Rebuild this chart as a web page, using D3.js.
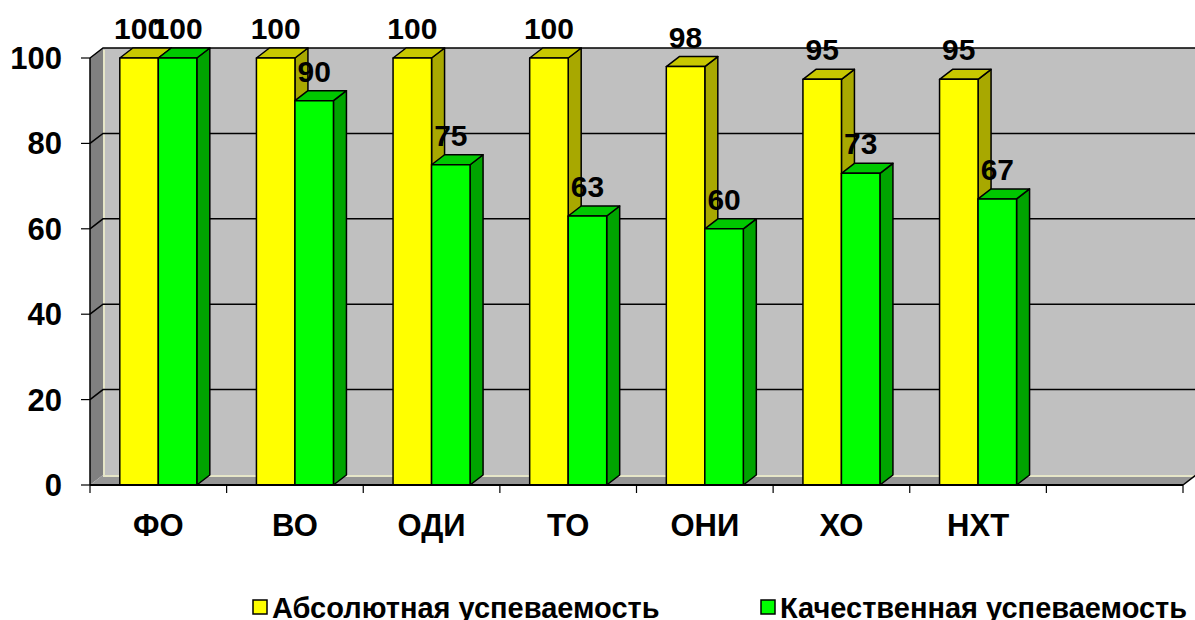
<!DOCTYPE html>
<html>
<head>
<meta charset="utf-8">
<script src="https://cdn.jsdelivr.net/npm/d3@7"></script>
<style>
  body { margin: 0; background: #fff; }
  svg text { font-family: Arial, "Liberation Sans", sans-serif; font-weight: bold; fill: #000; }
</style>
</head>
<body>
<div class="chart"></div>
<script>
var categories = ["ФО", "ВО", "ОДИ", "ТО", "ОНИ", "ХО", "НХТ", ""];
var absolute = [100, 100, 100, 100, 98, 95, 95];
var quality = [100, 90, 75, 63, 60, 73, 67];
var seriesNames = ["Абсолютная успеваемость", "Качественная успеваемость"];
var yTicks = [0, 20, 40, 60, 80, 100];

var width = 1195,
    height = 620;

// depth offset of the 3d box
var dx = 13,
    dy = -10;

var colors = [
  { front: "#ffff00", top: "#c8c800", side: "#a8a800" },
  { front: "#00ff00", top: "#00c800", side: "#00a400" }
];

var svg = d3.select(".chart").append("svg")
    .attr("width", width)
    .attr("height", height);

var x = d3.scaleBand()
    .domain(categories)
    .range([90, 1183]);

var xs = d3.scaleBand()
    .domain([0, 1])
    .range([0, x.bandwidth()])
    .paddingOuter(0.774);

var y = d3.scaleLinear()
    .domain([0, 100])
    .range([485, 58]);

var x0 = x.range()[0], x1 = x.range()[1];

// walls
svg.append("rect")
    .attr("x", x0 + dx)
    .attr("y", y(100) + dy)
    .attr("width", x1 - x0 + 5)
    .attr("height", y(0) - y(100))
    .attr("fill", "#c0c0c0");

svg.append("path")
    .attr("d", "M" + x0 + "," + y(100) + "L" + (x0 + dx) + "," + (y(100) + dy) +
               "L" + (x0 + dx) + "," + (y(0) + dy) + "L" + x0 + "," + y(0) + "Z")
    .attr("fill", "#808080");

svg.append("path")
    .attr("d", "M" + x0 + "," + y(0) + "L" + (x0 + dx) + "," + (y(0) + dy) +
               "L" + (x1 + dx) + "," + (y(0) + dy) + "L" + x1 + "," + y(0) + "Z")
    .attr("fill", "#969696");

// light edge of back wall
svg.append("path")
    .attr("d", "M" + (x0 + dx + 1) + "," + (y(100) + dy + 2) + "L" + (x0 + dx + 1) + "," + (y(0) + dy + 1) +
               "L" + (x1 + dx + 5) + "," + (y(0) + dy + 1))
    .attr("fill", "none")
    .attr("stroke", "#e6e6c8")
    .attr("stroke-width", 2);

// gridlines
var grid = svg.append("g");
yTicks.filter(function(d){ return d > 0; }).forEach(function(t){
  grid.append("path")
      .attr("d", "M" + x0 + "," + y(t) + "L" + (x0 + dx) + "," + (y(t) + dy) + "L" + (x1 + dx + 5) + "," + (y(t) + dy))
      .attr("fill", "none")
      .attr("stroke", "#000")
      .attr("stroke-width", 1.5);
});

// bars
var bars = [];
categories.forEach(function(c, i){
  [absolute, quality].forEach(function(s, k){
    if (s[i] !== undefined) bars.push({ cat: c, k: k, v: s[i] });
  });
});

var g = svg.append("g")
    .selectAll("g")
    .data(bars)
    .enter()
    .append("g")
    .attr("stroke", "#000")
    .attr("stroke-width", 1.5)
    .attr("stroke-linejoin", "round");

function barGeom(d) {
  var bx = x(d.cat) + xs(d.k),
      bw = xs.bandwidth(),
      top = y(d.v),
      bot = y(0);
  return { bx: bx, bw: bw, top: top, bot: bot };
}

g.append("path")
    .attr("d", function(d){
      var b = barGeom(d);
      return "M" + (b.bx + b.bw) + "," + b.top + "L" + (b.bx + b.bw + dx) + "," + (b.top + dy) +
             "L" + (b.bx + b.bw + dx) + "," + (b.bot + dy) + "L" + (b.bx + b.bw) + "," + b.bot + "Z";
    })
    .attr("fill", function(d){ return colors[d.k].side; });

g.append("path")
    .attr("d", function(d){
      var b = barGeom(d);
      return "M" + b.bx + "," + b.top + "L" + (b.bx + dx) + "," + (b.top + dy) +
             "L" + (b.bx + b.bw + dx) + "," + (b.top + dy) + "L" + (b.bx + b.bw) + "," + b.top + "Z";
    })
    .attr("fill", function(d){ return colors[d.k].top; });

g.append("rect")
    .attr("x", function(d){ return barGeom(d).bx; })
    .attr("y", function(d){ return barGeom(d).top; })
    .attr("width", xs.bandwidth())
    .attr("height", function(d){ return y(0) - y(d.v); })
    .attr("fill", function(d){ return colors[d.k].front; });

// axes
svg.append("line")
    .attr("x1", x0).attr("x2", x0)
    .attr("y1", y(100)).attr("y2", y(0))
    .attr("stroke", "#000").attr("stroke-width", 1.5);

svg.append("line")
    .attr("x1", x0).attr("x2", x1)
    .attr("y1", y(0)).attr("y2", y(0))
    .attr("stroke", "#000").attr("stroke-width", 2);

svg.append("path")
    .attr("d", "M" + x1 + "," + y(0) + "L" + (x1 + dx) + "," + (y(0) + dy))
    .attr("stroke", "#000").attr("stroke-width", 1.5);

svg.append("g")
    .selectAll("line")
    .data(yTicks)
    .enter()
    .append("line")
    .attr("x1", x0 - 9).attr("x2", x0)
    .attr("y1", function(d){ return y(d); })
    .attr("y2", function(d){ return y(d); })
    .attr("stroke", "#000").attr("stroke-width", 1.2);

svg.append("g")
    .selectAll("text")
    .data(yTicks)
    .enter()
    .append("text")
    .attr("x", 62)
    .attr("y", function(d){ return y(d) + 11; })
    .attr("text-anchor", "end")
    .style("font-size", "31px")
    .text(function(d){ return d; });

svg.append("g")
    .selectAll("line")
    .data(categories.map(function(c){ return x(c); }).concat([x1]))
    .enter()
    .append("line")
    .attr("x1", function(d){ return d; })
    .attr("x2", function(d){ return d; })
    .attr("y1", y(0)).attr("y2", y(0) + 8)
    .attr("stroke", "#000").attr("stroke-width", 1.2);

svg.append("g")
    .selectAll("text")
    .data(categories)
    .enter()
    .append("text")
    .attr("x", function(d){ return x(d) + x.bandwidth() / 2; })
    .attr("y", 536)
    .attr("text-anchor", "middle")
    .style("font-size", "31px")
    .text(function(d){ return d; });

// value labels
svg.append("g")
    .selectAll("text")
    .data(bars)
    .enter()
    .append("text")
    .attr("x", function(d){ var b = barGeom(d); return b.bx + b.bw / 2; })
    .attr("y", function(d){ return y(d.v) - 19; })
    .attr("text-anchor", "middle")
    .style("font-size", "30px")
    .text(function(d){ return d.v; });

// legend
var legendX = [252, 760];
var legend = svg.append("g")
    .selectAll("g")
    .data(seriesNames)
    .enter()
    .append("g")
    .attr("transform", function(d, i){ return "translate(" + legendX[i] + ",0)"; });

legend.append("rect")
    .attr("x", 1).attr("y", 600)
    .attr("width", 14).attr("height", 14)
    .attr("fill", function(d, i){ return colors[i].front; })
    .attr("stroke", "#000").attr("stroke-width", 1.5);

legend.append("text")
    .attr("x", 20)
    .attr("y", 618)
    .style("font-size", "29px")
    .text(function(d){ return d; });
</script>
</body>
</html>
